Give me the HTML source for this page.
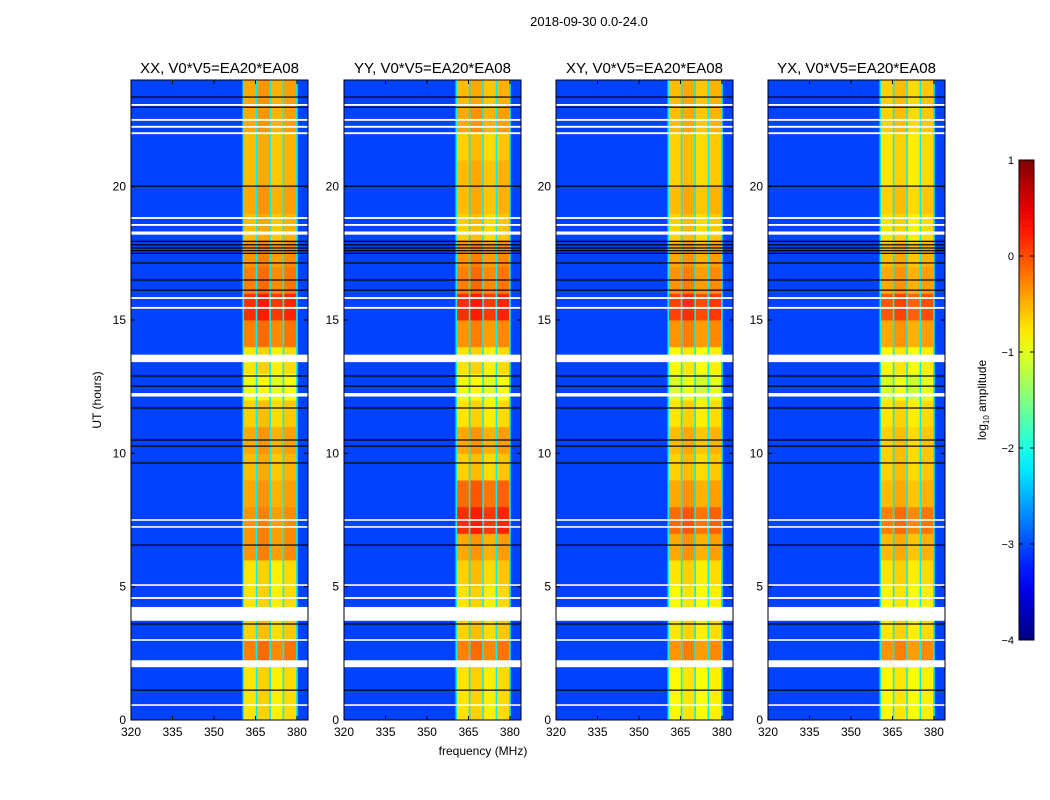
<!DOCTYPE html>
<html><head><meta charset="utf-8"><style>
body{margin:0;background:#fff;}
svg{display:block;font-family:"Liberation Sans",sans-serif;}
</style></head><body>
<svg id="fig" width="1050" height="800" viewBox="0 0 1050 800" xmlns="http://www.w3.org/2000/svg">
<rect width="1050" height="800" fill="#fff"/>
<text x="589" y="26" font-size="13" text-anchor="middle">2018-09-30 0.0-24.0</text>
<text transform="translate(101,400) rotate(-90)" font-size="12" text-anchor="middle">UT (hours)</text>
<text x="483" y="755" font-size="12" text-anchor="middle">frequency (MHz)</text>
<g id="panels"></g>
<g id="cbar"></g>
</svg>
<script>
const panelNames = ["XX, V0*V5=EA20*EA08","YY, V0*V5=EA20*EA08","XY, V0*V5=EA20*EA08","YX, V0*V5=EA20*EA08"];
const xTicks = [320,335,350,365,380];
const yTicks = [0,5,10,15,20];
const subbandEdges = [360.6,365.4,370.3,375.1,380.0];
const subbandOffset = [0.05,0.15,0.0,0.1];
// log10 amplitude per hour (0..23) per panel
const ampXX = [-0.8,-0.8,-0.3,-0.7,-0.8,-0.8,-0.4,-0.4,-0.5,-0.6,-0.5,-0.7,-1.0,-0.8,-0.3,0.1,-0.3,-0.4,-0.6,-0.5,-0.6,-0.6,-0.5,-0.5];
const ampYY = [-0.8,-0.8,-0.3,-0.7,-0.8,-0.7,-0.5,0.1,-0.2,-0.7,-0.5,-0.8,-1.0,-0.8,-0.4,0.1,-0.3,-0.4,-0.7,-0.6,-0.6,-0.7,-0.5,-0.6];
const ampXY = [-0.9,-0.9,-0.4,-0.8,-0.9,-0.8,-0.5,-0.2,-0.5,-0.7,-0.6,-0.8,-1.1,-0.9,-0.4,0.0,-0.4,-0.5,-0.7,-0.6,-0.7,-0.7,-0.6,-0.6];
const ampYX = [-0.9,-0.9,-0.4,-0.8,-0.9,-0.8,-0.6,-0.3,-0.6,-0.7,-0.7,-0.8,-1.1,-0.9,-0.5,-0.1,-0.5,-0.6,-0.8,-0.7,-0.8,-0.8,-0.7,-0.7];
const panelAmps = [ampXX, ampYY, ampXY, ampYX];
const backgroundLevel = -3.05;
const gapLevel = -2.2;
const flagStart = [23.03,22.47,22.21,21.97,18.79,18.53,18.2,15.79,15.42,13.42,12.13,7.47,7.21,5.03,4.54,3.72,2.97,1.98,0.53];
const flagWidth = [0.07,0.07,0.07,0.07,0.07,0.07,0.12,0.07,0.07,0.28,0.13,0.06,0.06,0.06,0.07,0.52,0.06,0.26,0.06];
const blackLines = [23.36,22.98,20.02,17.95,17.82,17.7,17.6,17.5,17.14,16.5,16.12,12.9,12.52,11.7,10.5,10.27,9.64,6.56,3.6,1.12];
const cbarTicks = [-4,-3,-2,-1,0,1];

const NS="http://www.w3.org/2000/svg";
function el(t,a,p){const e=document.createElementNS(NS,t);for(const k in a)e.setAttribute(k,a[k]);p.appendChild(e);return e;}
function clamp(v){return Math.max(0,Math.min(1,v));}
function jet(v){const t=clamp((v+4)/5);const r=clamp(1.5-Math.abs(4*t-3)),g=clamp(1.5-Math.abs(4*t-2)),b=clamp(1.5-Math.abs(4*t-1));return `rgb(${Math.round(r*255)},${Math.round(g*255)},${Math.round(b*255)})`;}
const panelX=[131,344,556,768], PW=177, PT=80, PB=720, F0=320, F1=384, T0=0, T1=24;
const root=document.getElementById('panels');
panelX.forEach((x0,pi)=>{
  const xs=f=>x0+(f-F0)/(F1-F0)*PW;
  const ys=h=>PB-(h-T0)/(T1-T0)*(PB-PT);
  const g=el('g',{},root);
  
  
  const bg=el('rect',{x:x0,y:PT,width:PW,height:PB-PT,fill:jet(backgroundLevel)},g);
  
  
  const amps=panelAmps[pi];
  for(let h=0;h<amps.length;h++){
    for(let s=0;s<subbandEdges.length-1;s++){
      const r=el('rect',{x:xs(subbandEdges[s]),y:ys(h+1),width:xs(subbandEdges[s+1])-xs(subbandEdges[s]),height:ys(h)-ys(h+1)+0.5,fill:jet(amps[h]+subbandOffset[s])},g);
      
      
    }
  }
  for(let s=0;s<subbandEdges.length;s++){
    const l=el('rect',{x:xs(subbandEdges[s])-0.8,y:PT,width:1.6,height:PB-PT,fill:jet(gapLevel)},g);
    
    
  }
  flagStart.forEach((h,i)=>{
    const r=el('rect',{x:x0,y:ys(h+flagWidth[i]),width:PW,height:Math.max(1.5,ys(h)-ys(h+flagWidth[i])),fill:'#fff'},g);
    
    
  });
  blackLines.forEach(h=>{
    const r=el('rect',{x:x0,y:ys(h)-0.6,width:PW,height:1.2,fill:'#000'},g);
    
    
  });
  el('rect',{x:x0,y:PT,width:PW,height:PB-PT,fill:'none',stroke:'#000','stroke-width':1},g);
  xTicks.forEach(v=>{
    const x=xs(v);
    el('line',{x1:x,x2:x,y1:PB,y2:PB-4,stroke:'#000'},g);
    el('line',{x1:x,x2:x,y1:PT,y2:PT+4,stroke:'#000'},g);
    const t=el('text',{x:x,y:PB+16,'font-size':12,'text-anchor':'middle'},g);
    t.textContent=v;
    
    
  });
  yTicks.forEach(v=>{
    const y=ys(v);
    el('line',{x1:x0,x2:x0+4,y1:y,y2:y,stroke:'#000'},g);
    el('line',{x1:x0+PW,x2:x0+PW-4,y1:y,y2:y,stroke:'#000'},g);
    const t=el('text',{x:x0-5,y:y+4,'font-size':12,'text-anchor':'end'},g);
    t.textContent=v;
    
    
  });
  const tt=el('text',{x:x0+PW/2,y:PT-7,'font-size':15,'text-anchor':'middle'},g);
  tt.textContent=panelNames[pi];
  
  
});
// colorbar
const cb=document.getElementById('cbar');
const CX=1019,CW=15,CT=160,CB=640;
const cy=v=>CB-(v+4)/5*(CB-CT);
const defs=el('defs',{},cb);
const lg=el('linearGradient',{id:'jetg',x1:0,y1:1,x2:0,y2:0},defs);
for(let i=0;i<=20;i++){el('stop',{offset:i/20,'stop-color':jet(-4+5*i/20)},lg);}
const cr=el('rect',{x:CX,y:CT,width:CW,height:CB-CT,fill:'url(#jetg)',stroke:'#000','stroke-width':1},cb);


cbarTicks.forEach(v=>{
  const y=cy(v);
  el('line',{x1:CX,x2:CX+4,y1:y,y2:y,stroke:'#000'},cb);
  el('line',{x1:CX+CW,x2:CX+CW-4,y1:y,y2:y,stroke:'#000'},cb);
  const t=el('text',{x:CX-5,y:y+4,'font-size':11,'text-anchor':'end'},cb);
  t.textContent=v<0?'\u2212'+Math.abs(v):String(v);
  
  
});
const cl=el('text',{transform:'translate(986,400) rotate(-90)','font-size':12,'text-anchor':'middle'},cb);
cl.innerHTML='log<tspan font-size="8" dy="3">10</tspan><tspan dy="-3"> amplitude</tspan>';


</script>
</body></html>
